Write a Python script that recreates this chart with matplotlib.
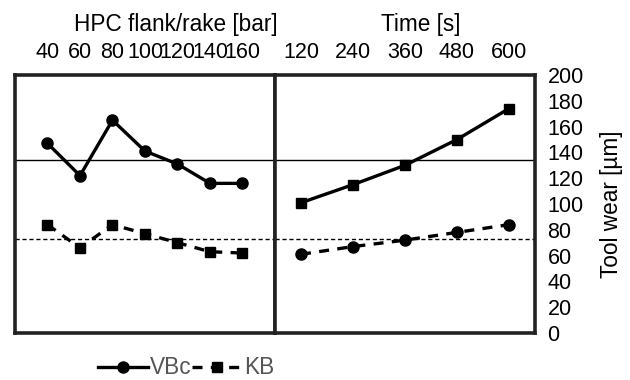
import matplotlib
matplotlib.use('Agg')
import matplotlib.pyplot as plt
from matplotlib.lines import Line2D

plt.rcParams['font.family'] = ['Liberation Sans', 'DejaVu Sans']
plt.rcParams['font.size'] = 15.5

# left panel: HPC pressure
pressure_labels = ['40', '60', '80', '100', '120', '140', '160']
vbc_pressure = [147, 122, 165, 141, 131, 116, 116]
kb_pressure = [84, 66, 84, 77, 70, 63, 62]

# right panel: time
time_labels = ['120', '240', '360', '480', '600']
vbc_time = [101, 115, 130, 150, 174]
kb_time = [61, 67, 72, 78, 84]

# reference levels
vbc_limit = 134
kb_limit = 72.5

frame_col = '#222222'
lw = 2.4
ms = 8

fig = plt.figure(figsize=(6.3, 3.8), dpi=100)
ax1 = fig.add_axes([0.0238, 0.1237, 0.4127, 0.6789])
ax2 = fig.add_axes([0.4365, 0.1237, 0.4127, 0.6789], sharey=ax1)

x1 = range(len(pressure_labels))
ax1.plot(x1, vbc_pressure, color='black', lw=lw, marker='o', ms=ms)
ax1.plot(x1, kb_pressure, color='black', lw=lw, marker='s', ms=ms - 0.5, dashes=(3, 2.5))
ax1.set_xlim(-1, len(pressure_labels))

x2 = range(len(time_labels))
ax2.plot(x2, vbc_time, color='black', lw=lw, marker='s', ms=ms - 0.5)
ax2.plot(x2, kb_time, color='black', lw=lw, marker='o', ms=ms, dashes=(3, 2.5))
ax2.set_xlim(-0.5, len(time_labels) - 0.5)

for ax in (ax1, ax2):
    ax.axhline(vbc_limit, color='black', lw=1, zorder=1)
    ax.axhline(kb_limit, color='black', lw=1, ls=(0, (3, 2)), zorder=1)
    for s in ax.spines.values():
        s.set_linewidth(2.6)
        s.set_color(frame_col)
    ax.xaxis.tick_top()
    ax.xaxis.set_label_position('top')
    ax.tick_params(axis='x', length=0, pad=9)

ax1.set_ylim(0, 200)
ax1.set_xticks(list(x1))
ax1.set_xticklabels(pressure_labels)
ax1.tick_params(axis='y', left=False, labelleft=False)
ax1.set_xlabel('HPC flank/rake [bar]', fontsize=16.3)
ax1.xaxis.set_label_coords(0.62, 1.17)

ax2.set_xticks(list(x2))
ax2.set_xticklabels(time_labels)
ax2.set_xlabel('Time [s]', fontsize=16.3)
ax2.xaxis.set_label_coords(0.56, 1.17)
ax2.yaxis.tick_right()
ax2.set_yticks(range(0, 201, 20))
ax2.tick_params(axis='y', length=0, pad=9, left=False, labelleft=False)
ax2.yaxis.set_label_position('right')
ax2.set_ylabel('Tool wear [µm]', fontsize=16.3, labelpad=12)

handles = [
    Line2D([], [], color='black', lw=lw, marker='o', ms=ms),
    Line2D([], [], color='black', lw=lw, marker='s', ms=ms - 0.5, dashes=(3, 2.5)),
]
leg = fig.legend(handles, ['VBc', 'KB'], loc='center', ncol=2,
                 bbox_to_anchor=(186 / 630, 1 - 368 / 380), frameon=False,
                 fontsize=16.3, handlelength=2.2, handletextpad=0.1,
                 columnspacing=0.0, borderpad=0)
for t in leg.get_texts():
    t.set_color('#555555')

fig.savefig('out.png', dpi=100)
